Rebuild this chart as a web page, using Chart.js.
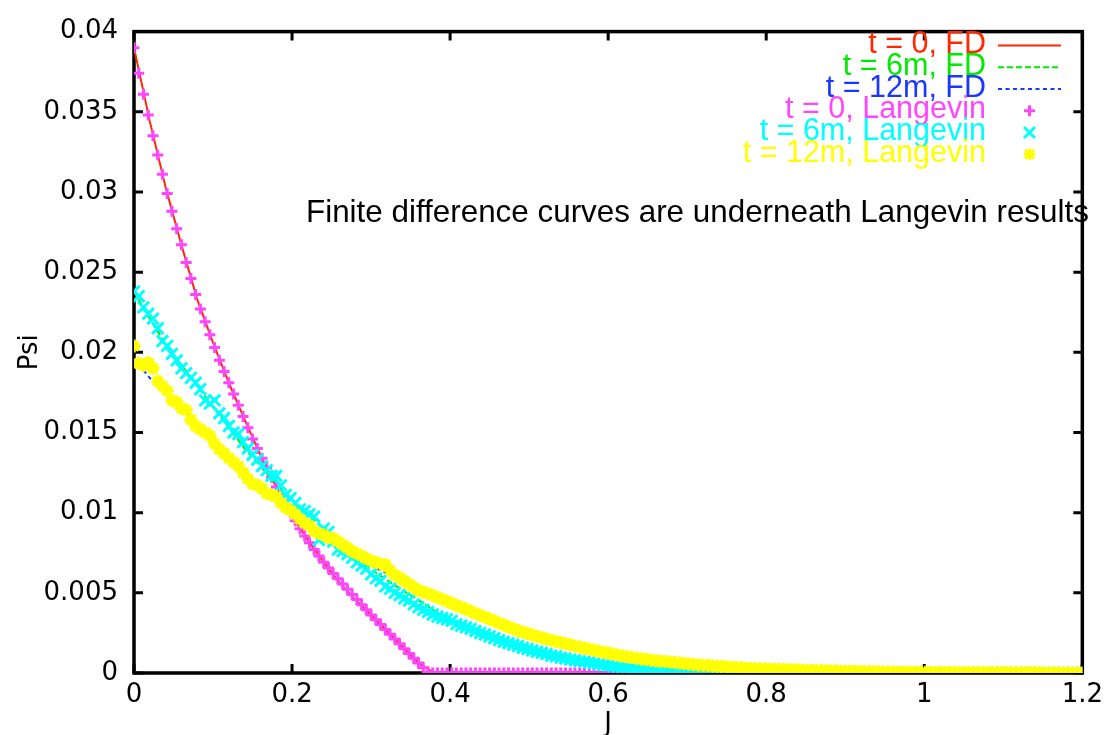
<!DOCTYPE html>
<html>
<head>
<meta charset="utf-8">
<script src="https://cdn.jsdelivr.net/npm/chart.js@4.4.0/dist/chart.umd.min.js"></script>
<style>
html,body{margin:0;padding:0;background:#fff;overflow:hidden}
#wrap{position:relative;width:1110px;height:735px}
canvas{display:block}
</style>
</head>
<body>
<div id="wrap"><canvas id="c" width="1110" height="735"></canvas></div>
<script>
// ---------- data (values in units of 1e-5) ----------
const VALUE_UNIT = 1e-5;
const langevinStep = 0.006;   // J spacing of Langevin samples
const fdStep = 0.02;          // J spacing of finite-difference samples

const xTickValues = [0, 0.2, 0.4, 0.6, 0.8, 1, 1.2];
const xTickLabels = ['0', '0.2', '0.4', '0.6', '0.8', '1', '1.2'];
const yTickValues = [0, 0.005, 0.01, 0.015, 0.02, 0.025, 0.03, 0.035, 0.04];
const yTickLabels = ['0', '0.005', '0.01', '0.015', '0.02', '0.025', '0.03', '0.035', '0.04'];

const seriesLabels = ['t = 0, FD', 't = 6m, FD', 't = 12m, FD',
                      't = 0, Langevin', 't = 6m, Langevin', 't = 12m, Langevin'];

// Finite difference curves (J = 0, 0.02, ..., 1.2)
const fdT0 = [
  3900,3440,3030,2670,2330,2060,1810,1580,1360,1160,
  980,830,690,565,458,362,262,162,62,0,
  0,0,0,0,0,0,0,0,0,0,
  0,0,0,0,0,0,0,0,0,0,
  0,0,0,0,0,0,0,0,0,0,
  0,0,0,0,0,0,0,0,0,0,
  0];
const fdT6m = [
  2380,2210,2050,1920,1790,1660,1530,1400,1290,1180,
  1080,990,900,815,720,645,580,515,455,390,
  335,290,250,212,180,152,128,106,88,72,
  58,46,36,28,22,17,13,10,7,5,
  4,3,2,1,1,0,0,0,0,0,
  0,0,0,0,0,0,0,0,0,0,
  0];
const fdT12m = [
  1960,1840,1750,1650,1550,1450,1350,1260,1170,1090,
  1010,930,860,790,730,670,620,570,520,470,
  430,390,350,310,280,250,220,190,170,150,
  130,110,95,80,70,60,50,43,36,30,
  25,20,17,14,12,10,8,7,6,5,
  4,3,3,2,2,2,1,1,1,1,
  0];

// Langevin results (J = 0, 0.006, ..., 1.2)
const lgT0 = [
  3900,3740,3610,3480,3350,3230,3110,2990,2880,2770,
  2670,2560,2460,2360,2270,2190,2110,2030,1950,1880,
  1810,1740,1670,1600,1530,1460,1400,1340,1280,1220,
  1160,1105,1052,1000,950,900,855,812,770,730,
  690,655,620,587,555,522,490,458,426,394,
  362,332,302,272,242,212,182,152,122,92,
  62,32,5,0,0,0,0,0,0,0,
  0,0,0,0,0,0,0,0,0,0,
  0,0,0,0,0,0,0,0,0,0,
  0,0,0,0,0,0,0,0,0,0,
  0,0,0,0,0,0,0,0,0,0,
  0,0,0,0,0,0,0,0,0,0,
  0,0,0,0,0,0,0,0,0,0,
  0,0,0,0,0,0,0,0,0,0,
  0,0,0,0,0,0,0,0,0,0,
  0,0,0,0,0,0,0,0,0,0,
  0,0,0,0,0,0,0,0,0,0,
  0,0,0,0,0,0,0,0,0,0,
  0,0,0,0,0,0,0,0,0,0,
  0,0,0,0,0,0,0,0,0,0,
  0];
const lgT6m = [
  2380,2350,2280,2240,2210,2150,2070,2040,1990,1950,
  1900,1870,1840,1810,1770,1700,1680,1700,1620,1590,
  1540,1500,1490,1440,1400,1360,1330,1290,1265,1230,
  1230,1170,1110,1090,1060,1020,1010,990,975,830,
  900,880,820,770,760,740,718,690,670,650,
  615,590,575,540,525,500,485,465,452,428,
  410,395,380,365,352,343,335,325,305,295,
  285,275,262,250,240,228,218,205,195,186,
  176,168,158,150,140,133,126,118,108,104,
  96,90,84,79,74,71,66,60,55,50,
  46,42,38,35,32,29,27,25,23,21,
  19,17,15,14,12,11,10,9,8,7,
  6,6,5,5,4,4,3,3,3,2,
  2,2,2,1,1,1,1,1,1,1,
  1,0,0,0,0,0,0,0,0,0,
  0,0,0,0,0,0,0,0,0,0,
  0,0,0,0,0,0,0,0,0,0,
  0,0,0,0,0,0,0,0,0,0,
  0,0,0,0,0,0,0,0,0,0,
  0,0,0,0,0,0,0,0,0,0,
  0];
const lgT12m = [
  2040,1930,1920,1935,1900,1820,1790,1760,1700,1690,
  1650,1640,1580,1540,1520,1500,1480,1430,1395,1370,
  1340,1315,1290,1250,1210,1180,1170,1150,1120,1110,
  1100,1060,1030,1015,990,960,935,920,885,870,
  860,845,840,820,800,780,760,745,730,715,
  700,690,680,675,640,610,595,575,555,535,
  515,505,495,485,470,460,448,435,422,410,
  398,385,372,360,348,336,325,312,300,288,
  276,265,255,246,237,228,220,212,204,197,
  190,183,176,169,162,155,149,142,136,130,
  124,118,112,106,101,96,92,88,84,80,
  77,74,71,68,65,62,59,56,53,50,
  48,46,44,42,40,38,36,34,32,30,
  28,27,26,25,24,23,22,21,20,19,
  18,17,16,15,14,14,13,12,12,11,
  10,10,9,9,8,8,7,7,6,6,
  6,5,5,5,4,4,4,4,3,3,
  3,3,3,2,2,2,2,2,2,1,
  1,1,1,1,1,1,1,1,1,1,
  1,1,0,0,0,0,0,0,0,0,
  0];

// ---------- styling ----------
const COLORS = {
  red: 'rgb(255,40,0)', green: 'rgb(0,235,0)', blue: 'rgb(25,55,255)',
  magenta: 'rgb(255,70,255)', cyan: 'rgb(0,255,255)', yellow: 'rgb(255,255,0)'
};
const TICK_FONT = {family: 'DejaVu Sans', size: 26, lineHeight: 1.2};
const TEXT_FONT = '"Liberation Sans", Arial, sans-serif';

function toPoints(step, values) {
  return values.map((v, i) => ({x: i * step, y: v * VALUE_UNIT}));
}

const datasets = [
  {label: seriesLabels[0], data: toPoints(fdStep, fdT0), showLine: true, pointRadius: 0,
   borderColor: COLORS.red, borderWidth: 2, tension: 0, order: 6},
  {label: seriesLabels[1], data: toPoints(fdStep, fdT6m), showLine: true, pointRadius: 0,
   borderColor: COLORS.green, borderWidth: 2, borderDash: [6, 3], tension: 0, order: 5},
  {label: seriesLabels[2], data: toPoints(fdStep, fdT12m), showLine: true, pointRadius: 0,
   borderColor: COLORS.blue, borderWidth: 2, borderDash: [4, 3.5], tension: 0, order: 4},
  {label: seriesLabels[3], data: toPoints(langevinStep, lgT0), showLine: false,
   pointStyle: 'cross', pointRadius: 5.5, pointBorderWidth: 3,
   borderColor: COLORS.magenta, backgroundColor: COLORS.magenta, order: 3},
  {label: seriesLabels[4], data: toPoints(langevinStep, lgT6m), showLine: false,
   pointStyle: 'crossRot', pointRadius: 8, pointBorderWidth: 3,
   borderColor: COLORS.cyan, backgroundColor: COLORS.cyan, order: 2},
  {label: seriesLabels[5], data: toPoints(langevinStep, lgT12m), showLine: false,
   pointStyle: 'star', pointRadius: 6.5, pointBorderWidth: 3.5,
   borderColor: COLORS.yellow, backgroundColor: COLORS.yellow, order: 1}
];

const legendSpec = [
  {text: seriesLabels[0], color: COLORS.red, kind: 'line', dash: []},
  {text: seriesLabels[1], color: COLORS.green, kind: 'line', dash: [6, 3]},
  {text: seriesLabels[2], color: COLORS.blue, kind: 'line', dash: [4, 3.5]},
  {text: seriesLabels[3], color: COLORS.magenta, kind: 'plus'},
  {text: seriesLabels[4], color: COLORS.cyan, kind: 'times'},
  {text: seriesLabels[5], color: COLORS.yellow, kind: 'star'}
];
const annotationText = 'Finite difference curves are underneath Langevin results';

const framePlugin = {
  id: 'frame',
  beforeDatasetsDraw(chart) {
    const {ctx, chartArea: a, scales} = chart;
    ctx.save();
    ctx.strokeStyle = '#000';
    ctx.lineWidth = 3.5;
    ctx.strokeRect(a.left, a.top, a.right - a.left, a.bottom - a.top);
    ctx.lineWidth = 3;
    const tl = 9;
    ctx.beginPath();
    scales.x.ticks.forEach(t => {
      const px = scales.x.getPixelForValue(t.value);
      ctx.moveTo(px, a.bottom); ctx.lineTo(px, a.bottom - tl);
      ctx.moveTo(px, a.top); ctx.lineTo(px, a.top + tl);
    });
    scales.y.ticks.forEach(t => {
      const py = scales.y.getPixelForValue(t.value);
      ctx.moveTo(a.left, py); ctx.lineTo(a.left + tl, py);
      ctx.moveTo(a.right, py); ctx.lineTo(a.right - tl, py);
    });
    ctx.stroke();
    ctx.restore();
  },
  afterDatasetsDraw(chart) {
    const {ctx} = chart;
    ctx.save();
    // annotation
    ctx.font = '31.4px ' + TEXT_FONT;
    ctx.fillStyle = '#000';
    ctx.textAlign = 'left';
    ctx.textBaseline = 'alphabetic';
    ctx.fillText(annotationText, 306, 222);
    // legend
    ctx.font = '30.5px ' + TEXT_FONT;
    ctx.textAlign = 'right';
    const textRight = 986, baseline0 = 53, dy = 21.75;
    const sx0 = 998, sx1 = 1061, mx = 1029.5;
    legendSpec.forEach((e, i) => {
      const by = baseline0 + i * dy;
      ctx.fillStyle = e.color;
      ctx.fillText(e.text, textRight, by);
      const cy = by - 7.5;
      ctx.strokeStyle = e.color;
      ctx.beginPath();
      if (e.kind === 'line') {
        ctx.lineWidth = 2;
        ctx.setLineDash(e.dash);
        ctx.moveTo(sx0, cy); ctx.lineTo(sx1, cy);
      } else {
        ctx.lineWidth = 3;
        ctx.setLineDash([]);
        const r = 5.5;
        if (e.kind === 'plus' || e.kind === 'star') {
          ctx.moveTo(mx - r, cy); ctx.lineTo(mx + r, cy);
          ctx.moveTo(mx, cy - r); ctx.lineTo(mx, cy + r);
        }
        if (e.kind === 'times' || e.kind === 'star') {
          const q = e.kind === 'star' ? 4.5 : 5.5;
          ctx.moveTo(mx - q, cy - q); ctx.lineTo(mx + q, cy + q);
          ctx.moveTo(mx - q, cy + q); ctx.lineTo(mx + q, cy - q);
        }
      }
      ctx.stroke();
    });
    ctx.restore();
  }
};

new Chart(document.getElementById('c'), {
  type: 'scatter',
  data: {datasets},
  options: {
    responsive: false,
    animation: false,
    devicePixelRatio: 1,
    layout: {padding: {top: 26, right: 24, bottom: 0, left: 0}},
    plugins: {legend: {display: false}, tooltip: {enabled: false}},
    elements: {line: {fill: false}},
    scales: {
      x: {
        type: 'linear', min: 0, max: 1.2,
        afterBuildTicks(s) { s.ticks = xTickValues.map(v => ({value: v})); },
        afterFit(s) { s.height = 62; },
        border: {display: false},
        grid: {display: false, drawTicks: false},
        ticks: {font: TICK_FONT, color: '#000', padding: 7, autoSkip: false, maxRotation: 0,
                callback: (v, i) => xTickLabels[i]},
        title: {display: true, text: 'J', color: '#000',
                font: {family: 'DejaVu Sans', size: 26, lineHeight: 1.0},
                padding: {top: 0, bottom: -2}}
      },
      y: {
        type: 'linear', min: 0, max: 0.04,
        afterBuildTicks(s) { s.ticks = yTickValues.map(v => ({value: v})); },
        afterFit(s) { s.width = 134; },
        border: {display: false},
        grid: {display: false, drawTicks: false},
        ticks: {font: TICK_FONT, color: '#000', padding: 16, autoSkip: false,
                callback: (v, i) => yTickLabels[i]},
        title: {display: true, text: 'Psi', color: '#000',
                font: {family: 'DejaVu Sans', size: 26, lineHeight: 1.0},
                padding: {top: 17, bottom: 0}}
      }
    }
  },
  plugins: [framePlugin]
});
</script>
</body>
</html>
